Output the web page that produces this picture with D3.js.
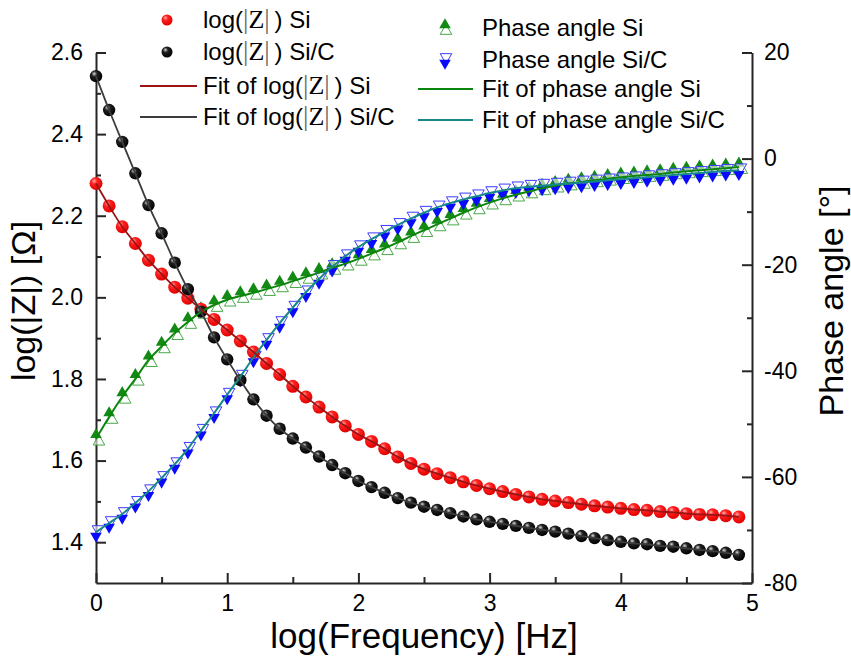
<!DOCTYPE html>
<html><head><meta charset="utf-8">
<script src="https://cdn.jsdelivr.net/npm/d3@7"></script>
<style>body{margin:0;background:#fff}svg{display:block}text{font-family:"Liberation Sans",Arial,sans-serif;fill:#000}</style>
</head><body><svg id="c" width="851" height="659"></svg>
<script>
const logFreq = [0,0.1,0.2,0.3,0.4,0.5,0.6,0.7,0.8,0.9,1.0,1.1,1.2,1.3,1.4,1.5,1.6,1.7,1.8,1.9,2.0,2.1,2.2,2.3,2.4,2.5,2.6,2.7,2.8,2.9,3.0,3.1,3.2,3.3,3.4,3.5,3.6,3.7,3.8,3.9,4.0,4.1,4.2,4.3,4.4,4.5,4.6,4.7,4.8,4.9];
const logZSi = [2.279,2.224,2.173,2.132,2.091,2.057,2.025,1.998,1.971,1.946,1.920,1.893,1.866,1.838,1.811,1.782,1.756,1.731,1.707,1.685,1.664,1.647,1.629,1.609,1.593,1.579,1.568,1.558,1.548,1.539,1.531,1.524,1.517,1.511,1.505,1.501,1.497,1.493,1.489,1.486,1.483,1.480,1.478,1.475,1.473,1.470,1.468,1.467,1.465,1.462];
const logZSiC = [2.542,2.459,2.381,2.304,2.226,2.157,2.085,2.020,1.965,1.902,1.848,1.797,1.750,1.710,1.678,1.654,1.632,1.610,1.589,1.569,1.550,1.535,1.521,1.508,1.497,1.487,1.479,1.471,1.463,1.456,1.450,1.445,1.440,1.435,1.430,1.426,1.421,1.415,1.410,1.405,1.401,1.397,1.395,1.391,1.389,1.385,1.381,1.378,1.374,1.369];
const phaseSi = [-52.8,-48.7,-44.9,-41.5,-38.0,-35.4,-32.9,-30.8,-28.9,-27.6,-26.6,-25.9,-25.3,-24.6,-23.9,-23.1,-22.3,-21.5,-20.6,-19.8,-18.9,-17.9,-16.9,-15.8,-14.6,-13.5,-12.4,-11.3,-10.2,-9.2,-8.3,-7.5,-6.8,-6.2,-5.6,-5.1,-4.7,-4.4,-4.1,-3.8,-3.5,-3.3,-3.1,-2.9,-2.6,-2.4,-2.2,-2.0,-1.8,-1.6];
const phaseSiC = [-70.4,-68.7,-67.0,-64.9,-62.7,-60.2,-57.6,-54.7,-51.3,-48.0,-44.5,-41.1,-37.5,-34.2,-31.0,-28.1,-25.2,-22.7,-20.4,-18.4,-16.7,-15.2,-13.8,-12.5,-11.3,-10.2,-9.2,-8.4,-7.7,-7.1,-6.5,-6.0,-5.6,-5.3,-5.1,-4.9,-4.7,-4.5,-4.3,-4.1,-3.9,-3.7,-3.5,-3.3,-3.1,-2.9,-2.7,-2.5,-2.3,-2.2];
const xTicks = [0,1,2,3,4,5];
const xMinor = [0.5,1.5,2.5,3.5,4.5];
const leftTicks = [1.4,1.6,1.8,2.0,2.2,2.4,2.6];
const leftMinor = [1.5,1.7,1.9,2.1,2.3,2.5];
const rightTicks = [-80,-60,-40,-20,0,20];
const rightMinor = [-70,-50,-30,-10,10];

const svg = d3.select("#c");
const x = d3.scaleLinear([0,5],[96,752]);
const yL = d3.scaleLinear([1.3,2.6],[583,52.5]);
const yR = d3.scaleLinear([-80,20],[583,52.5]);

const defs = svg.append("defs");
function ball(id, c0, c1, c2){
  const g = defs.append("radialGradient").attr("id",id).attr("cx","0.4").attr("cy","0.35").attr("r","0.65").attr("fx","0.35").attr("fy","0.3");
  g.append("stop").attr("offset","0").attr("stop-color",c0);
  g.append("stop").attr("offset","0.35").attr("stop-color",c1);
  g.append("stop").attr("offset","1").attr("stop-color",c2);
}
ball("gRed","#ffb0b0","#ff2020","#e00000");
ball("gBlk","#d8d8d8","#202020","#000000");

const axisColor = "#262626";
function styleAxis(g){
  g.selectAll("path.domain").attr("stroke",axisColor).attr("stroke-width",2);
  g.selectAll(".tick line").attr("stroke",axisColor).attr("stroke-width",2);
  g.selectAll("text").attr("font-size",23).attr("font-family","Liberation Sans, Arial, sans-serif").attr("fill","#000");
}
const plain = d => String(d);
const gx = svg.append("g").attr("transform","translate(0,583)")
  .call(d3.axisBottom(x).tickValues(xTicks).tickFormat(plain).tickSizeInner(-10).tickSizeOuter(0).tickPadding(12));
styleAxis(gx);
const gxm = svg.append("g").attr("transform","translate(0,583)")
  .call(d3.axisBottom(x).tickValues(xMinor).tickFormat("").tickSizeInner(-6).tickSizeOuter(0));
gxm.select(".domain").remove(); styleAxis(gxm);

const gl = svg.append("g").attr("transform","translate(96,0)")
  .call(d3.axisLeft(yL).tickValues(leftTicks).tickFormat(d=>d.toFixed(1)).tickSizeInner(-10).tickSizeOuter(0).tickPadding(13));
styleAxis(gl);
const glm = svg.append("g").attr("transform","translate(96,0)")
  .call(d3.axisLeft(yL).tickValues(leftMinor).tickFormat("").tickSizeInner(-5).tickSizeOuter(0));
glm.select(".domain").remove(); styleAxis(glm);

const gr = svg.append("g").attr("transform","translate(752,0)")
  .call(d3.axisRight(yR).tickValues(rightTicks).tickFormat(plain).tickSizeInner(-10).tickSizeOuter(0).tickPadding(12));
styleAxis(gr);
const grm = svg.append("g").attr("transform","translate(752,0)")
  .call(d3.axisRight(yR).tickValues(rightMinor).tickFormat("").tickSizeInner(-5).tickSizeOuter(0));
grm.select(".domain").remove(); styleAxis(grm);

// titles
svg.append("text").attr("x",424).attr("y",648).attr("text-anchor","middle").attr("font-size",35).text("log(Frequency) [Hz]");
svg.append("text").attr("transform","translate(35,301) rotate(-90)").attr("text-anchor","middle").attr("font-size",34).text("log(|Z|) [Ω]");
svg.append("text").attr("transform","translate(843,301) rotate(-90)").attr("text-anchor","middle").attr("font-size",34).text("Phase angle [°]");

const dSi = logFreq.map((f,i)=>({f, z:logZSi[i], p:phaseSi[i]}));
const dSiC = logFreq.map((f,i)=>({f, z:logZSiC[i], p:phaseSiC[i]}));

const triUp = d3.symbol(d3.symbolTriangle, 58)();
const gMark = svg.append("g");
gMark.selectAll(".gh").data(dSi).join("path").attr("d",triUp)
  .attr("transform",d=>`translate(${x(d.f)+3},${yR(d.p)+3})`)
  .attr("fill","#fff").attr("fill-opacity",0.6).attr("stroke","#4aa84a").attr("stroke-width",1);
gMark.selectAll(".gf").data(dSi).join("path").attr("d",triUp)
  .attr("transform",d=>`translate(${x(d.f)},${yR(d.p)-4})`)
  .attr("fill","#138a13");
gMark.selectAll(".bh").data(dSiC).join("path").attr("d",triUp)
  .attr("transform",d=>`translate(${x(d.f)+2},${yR(d.p)-3}) rotate(180)`)
  .attr("fill","#fff").attr("fill-opacity",0.6).attr("stroke","#3b3bff").attr("stroke-width",1);
gMark.selectAll(".bf").data(dSiC).join("path").attr("d",triUp)
  .attr("transform",d=>`translate(${x(d.f)},${yR(d.p)+4}) rotate(180)`)
  .attr("fill","#0a0aff");
gMark.selectAll(".r").data(dSi).join("circle").attr("cx",d=>x(d.f)).attr("cy",d=>yL(d.z)).attr("r",6.5).attr("fill","url(#gRed)");
gMark.selectAll(".k").data(dSiC).join("circle").attr("cx",d=>x(d.f)).attr("cy",d=>yL(d.z)).attr("r",6.2).attr("fill","url(#gBlk)");

const lineZ = d3.line().x(d=>x(d.f)).y(d=>yL(d.z)).curve(d3.curveCatmullRom);
const lineP = d3.line().x(d=>x(d.f)).y(d=>yR(d.p)).curve(d3.curveCatmullRom);
svg.append("path").attr("d",lineP(dSi)).attr("fill","none").attr("stroke","#0c850c").attr("stroke-width",2);
svg.append("path").attr("d",lineP(dSiC)).attr("fill","none").attr("stroke","#178888").attr("stroke-width",2);
svg.append("path").attr("d",lineZ(dSi)).attr("fill","none").attr("stroke","#9a1414").attr("stroke-width",1.8);
svg.append("path").attr("d",lineZ(dSiC)).attr("fill","none").attr("stroke","#3c3c3c").attr("stroke-width",1.8);

// legend
const lg = svg.append("g");
function zText(sel, pre, post){
  const t = sel.append("text").attr("font-size",24).attr("dy","0.35em");
  t.append("tspan").text(pre);
  t.append("tspan").attr("font-family","Liberation Serif, serif").attr("fill","#666").attr("font-size",27).text("|");
  t.append("tspan").attr("font-family","Liberation Serif, serif").attr("font-size",26).text("Z");
  t.append("tspan").attr("font-family","Liberation Serif, serif").attr("fill","#666").attr("font-size",27).text("|");
  t.append("tspan").text("\u2009" + post);
  return t;
}
const rowsL = [20,52,86,117];
lg.append("circle").attr("cx",167).attr("cy",rowsL[0]).attr("r",5.5).attr("fill","url(#gRed)");
lg.append("circle").attr("cx",167).attr("cy",rowsL[1]).attr("r",5.5).attr("fill","url(#gBlk)");
lg.append("line").attr("x1",140).attr("x2",197).attr("y1",rowsL[2]).attr("y2",rowsL[2]).attr("stroke","#9a1414").attr("stroke-width",2);
lg.append("line").attr("x1",140).attr("x2",197).attr("y1",rowsL[3]).attr("y2",rowsL[3]).attr("stroke","#3c3c3c").attr("stroke-width",2);
zText(lg,"log(",") Si").attr("x",203).attr("y",rowsL[0]);
zText(lg,"log(",") Si/C").attr("x",203).attr("y",rowsL[1]);
zText(lg,"Fit of log(",") Si").attr("x",203).attr("y",rowsL[2]);
zText(lg,"Fit of log(",") Si/C").attr("x",203).attr("y",rowsL[3]);

const rowsR = [28,60,89,120];
lg.append("path").attr("d",triUp).attr("transform",`translate(446,${rowsR[0]+3})`).attr("fill","#fff").attr("stroke","#4aa84a").attr("stroke-width",1);
lg.append("path").attr("d",triUp).attr("transform",`translate(445,${rowsR[0]-3})`).attr("fill","#138a13");
lg.append("path").attr("d",triUp).attr("transform",`translate(446,${rowsR[1]-3}) rotate(180)`).attr("fill","#fff").attr("stroke","#3b3bff").attr("stroke-width",1);
lg.append("path").attr("d",triUp).attr("transform",`translate(445,${rowsR[1]+3}) rotate(180)`).attr("fill","#0a0aff");
lg.append("line").attr("x1",418).attr("x2",473).attr("y1",rowsR[2]).attr("y2",rowsR[2]).attr("stroke","#0c850c").attr("stroke-width",2);
lg.append("line").attr("x1",418).attr("x2",473).attr("y1",rowsR[3]).attr("y2",rowsR[3]).attr("stroke","#178888").attr("stroke-width",2);
["Phase angle Si","Phase angle Si/C","Fit of phase angle Si","Fit of phase angle Si/C"].forEach((s,i)=>{
  lg.append("text").attr("x",482).attr("y",rowsR[i]).attr("dy","0.35em").attr("font-size",24).text(s);
});
</script></body></html>
